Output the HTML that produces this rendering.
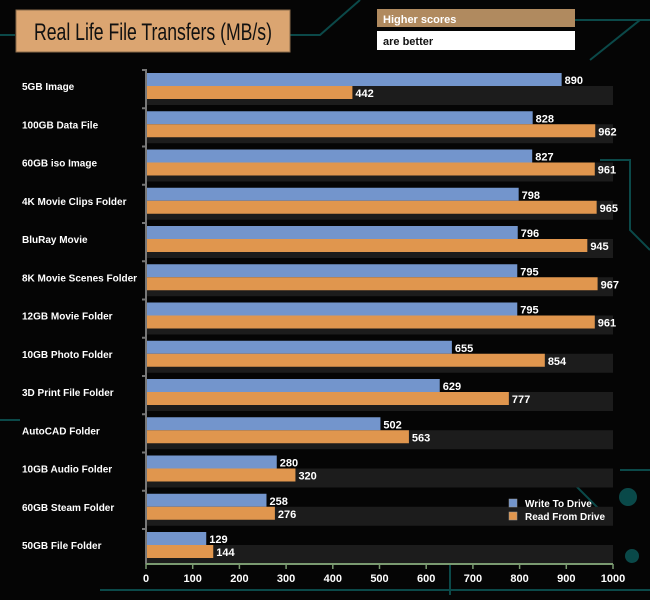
<!DOCTYPE html>
<html><head><meta charset="utf-8"><style>
body{margin:0;background:#050505;}
svg{display:block;font-family:"Liberation Sans",sans-serif;}
</style></head><body>
<svg id="c" width="650" height="600" viewBox="0 0 650 600">
<rect width="650" height="600" fill="#050505"/>
<g stroke="#0d5a5a" stroke-width="2" fill="none" opacity="0.8">
<path d="M0 35 H15 M290 35 H320 L360 0 M575 20 H650 M590 60 L640 20 M0 420 H20 M450 595 V560 M600 160 H630 V230 L650 250 M560 470 L610 520 M620 470 H650 M100 590 H650"/>
<circle cx="628" cy="497" r="8" fill="#0a5a5a"/><circle cx="632" cy="556" r="6" fill="#0a5a5a"/>
</g>
<rect x="16" y="10" width="274" height="42" fill="#dba571" stroke="#8a6a4a"/>
<text x="153" y="40" text-anchor="middle" font-size="24" textLength="238" lengthAdjust="spacingAndGlyphs" fill="#111">Real Life File Transfers (MB/s)</text>
<rect x="377" y="9" width="198" height="18" fill="#b08a5f"/>
<text x="383" y="23" font-size="11" font-weight="bold" fill="#fff">Higher scores</text>
<rect x="377" y="31" width="198" height="19" fill="#fff"/>
<text x="383" y="45" font-size="11" font-weight="bold" fill="#111">are better</text>
<g id="plot"></g>
</svg>
<script>
const categories=["5GB Image","100GB Data File","60GB iso Image","4K Movie Clips Folder","BluRay Movie","8K Movie Scenes Folder","12GB Movie Folder","10GB Photo Folder","3D Print File Folder","AutoCAD Folder","10GB Audio Folder","60GB Steam Folder","50GB File Folder"];
const writeVals=[890,828,827,798,796,795,795,655,629,502,280,258,129];
const readVals=[442,962,961,965,945,967,961,854,777,563,320,276,144];
const xTicks=[0,100,200,300,400,500,600,700,800,900,1000];
const NS="http://www.w3.org/2000/svg";
const g=document.getElementById('plot');
const x0=146,x1=613,top0=73,pitch=38.25,bh=13,axisY=564;
const xs=v=>x0+(x1-x0)*v/1000;
const yr=i=>top0+pitch*i;
function el(t,a){const e=document.createElementNS(NS,t);for(const k in a)e.setAttribute(k,a[k]);g.appendChild(e);return e;}
categories.forEach((c,i)=>{
 const y=yr(i);
 const s=el('rect',{x:x0,y:y+bh,width:x1-x0,height:bh+6,fill:'#1c1c1c'});
 
 
 const w=el('rect',{x:x0,y:y,width:xs(writeVals[i])-x0,height:bh,fill:'#7395cc'});
 
 
 const r=el('rect',{x:x0,y:y+bh,width:xs(readVals[i])-x0,height:bh,fill:'#e0964e'});
 
 
 const wl=el('text',{x:xs(writeVals[i])+3,y:y+11,'font-size':11,'font-weight':'bold',fill:'#fff'});wl.textContent=writeVals[i];
 
 
 const rl=el('text',{x:xs(readVals[i])+3,y:y+bh+11,'font-size':11,'font-weight':'bold',fill:'#fff'});rl.textContent=readVals[i];
 
 
 const cl=el('text',{x:22,y:y+bh+4,'font-size':10,'font-weight':'bold',fill:'#fff'});cl.textContent=c;
 
 
 const tk=el('line',{x1:x0-4,x2:x0,y1:y-3,y2:y-3,stroke:'#777','stroke-width':2});
 
 
});
const ya=el('line',{x1:x0,x2:x0,y1:top0-4,y2:axisY,stroke:'#777','stroke-width':2});


const xa=el('line',{x1:x0,x2:x1,y1:axisY,y2:axisY,stroke:'#7a9a70','stroke-width':2});


xTicks.forEach(t=>{
 const l=el('line',{x1:xs(t),x2:xs(t),y1:axisY,y2:axisY+5,stroke:'#7a9a70','stroke-width':1.5});
 
 
 const tx=el('text',{x:xs(t),y:axisY+18,'text-anchor':'middle','font-size':11,'font-weight':'bold',fill:'#fff'});tx.textContent=t;
 
 
});
[["Write To  Drive","#7395cc",499],["Read From  Drive","#e0964e",512]].forEach(([n,col,y])=>{
 const sw=el('rect',{x:509,y:y,width:8,height:8,fill:col,stroke:'#999','stroke-width':0.5});
 
 
 const lt=el('text',{x:525,y:y+8,'font-size':10,'font-weight':'bold',fill:'#fff','xml:space':'preserve'});lt.textContent=n;
 
 
});
</script>
</body></html>
